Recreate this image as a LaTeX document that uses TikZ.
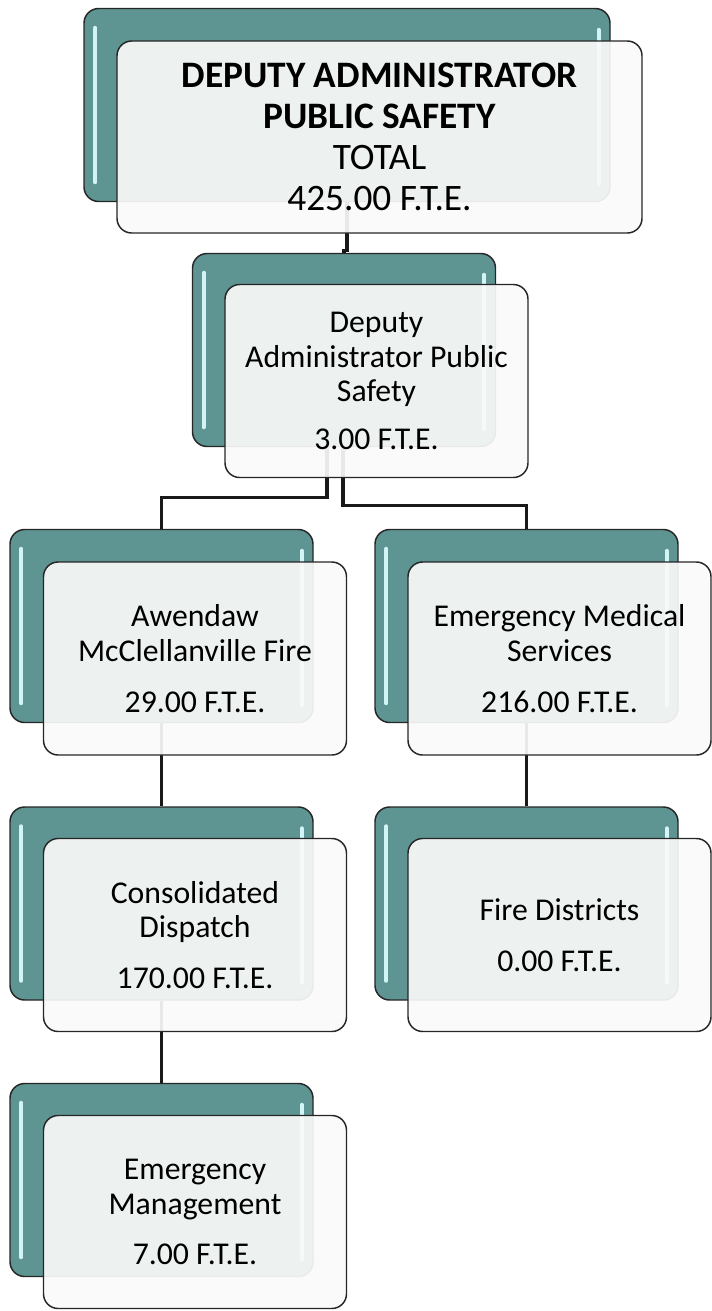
\documentclass[tikz,border=0pt]{standalone}
\usepackage{fontspec}
\setmainfont{Carlito}
\usetikzlibrary{calc}
\definecolor{teal1}{HTML}{5E9592}
\definecolor{hilite}{HTML}{D2F4F4}
\definecolor{edge}{HTML}{262626}
\definecolor{frontfill}{HTML}{FAFAFA}
\begin{document}
\begin{tikzpicture}[x=0.75pt,y=-0.75pt,
  backbox/.style={draw=edge, line width=1.1pt, fill=teal1, rounded corners=11pt,
    minimum width=227.25pt, minimum height=144.75pt, inner sep=0pt},
  frontbox/.style={draw=edge, line width=1.1pt, fill=frontfill, fill opacity=0.92,
    text opacity=1, rounded corners=11pt, minimum width=227.25pt, minimum height=144.75pt,
    align=center, font=\fontsize{23.8}{26}\selectfont, inner sep=0pt},
  strip/.style={draw=hilite, line width=3pt, line cap=round},
  conn/.style={draw=black!90, line width=2.3pt}]
\useasboundingbox (0,0) rectangle (711,1311);
% back boxes
\node[backbox, minimum width=394.5pt] (b1) at (347,105) {};
\node[backbox] (b2) at (344,350) {};
\node[backbox] (b3) at (161.5,626) {};
\node[backbox] (b4) at (526.5,626) {};
\node[backbox] (b5) at (161.5,903.5) {};
\node[backbox] (b6) at (526.5,903.5) {};
\node[backbox] (b7) at (161.5,1180) {};
\foreach \b in {b1,b2,b3,b4,b5,b6,b7}{
  \draw[strip] ($(\b.north west)+(12,20)$) -- ($(\b.south west)+(12,-20)$);
  \draw[strip] ($(\b.north east)+(-12,22)$) -- ($(\b.south east)+(-12,-18)$);
}
% connectors
\draw[conn] (b1.south) -- ($(b1.south)+(0,48)$) -| (b2.north);
\draw[conn] ($(b2.south)+(-17,0)$) -- ($(b2.south)+(-17,50)$) -| (b3.north);
\draw[conn] ($(b2.south)+(-1,0)$) -- ($(b2.south)+(-1,58)$) -| (b4.north);
\draw[conn] (b3.south) -- (b5.north);
\draw[conn] (b4.south) -- (b6.north);
\draw[conn] (b5.south) -- (b7.north);
% front boxes
\node[frontbox, minimum width=393.75pt, minimum height=144pt,
  font=\fontsize{28}{30.75}\selectfont] (f1) at (379.5,137)
  {\textbf{DEPUTY ADMINISTRATOR}\\\textbf{PUBLIC SAFETY}\\TOTAL\\425.00 F.T.E.};
\node[frontbox] (f2) at (376.5,381) {Deputy\\Administrator Public\\Safety\\[10pt]3.00 F.T.E.};
\node[frontbox] (f3) at (195,658.5) {Awendaw\\McClellanville Fire\\[12pt]29.00 F.T.E.};
\node[frontbox] (f4) at (559.5,658.5) {Emergency Medical\\Services\\[12pt]216.00 F.T.E.};
\node[frontbox] (f5) at (195,935) {Consolidated\\Dispatch\\[12pt]170.00 F.T.E.};
\node[frontbox] (f6) at (559.5,935) {Fire Districts\\[12pt]0.00 F.T.E.};
\node[frontbox] (f7) at (195,1212) {Emergency\\Management\\[12pt]7.00 F.T.E.};
\end{tikzpicture}
\end{document}
